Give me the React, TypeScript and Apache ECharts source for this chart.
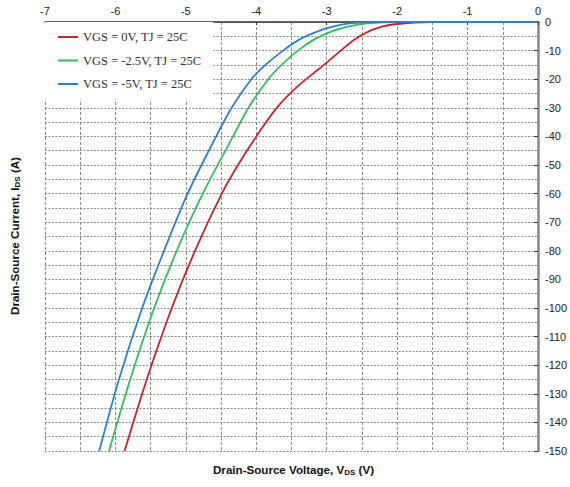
import React, { useEffect, useRef } from "react";
import * as echarts from "echarts";

const seriesNames = ["VGS = 0V, TJ = 25C", "VGS = -2.5V, TJ = 25C", "VGS = -5V, TJ = 25C"];
const seriesColors = ["#cc2229", "#2fbf5f", "#2d80d2"];

// [VDS (V), IDS (A)]
const redData: number[][] = [
  [-5.87, -150], [-5.555, -125], [-5.2, -100], [-4.87, -80], [-4.49, -60], [-4.26, -50],
  [-4.0, -40], [-3.71, -30], [-3.39, -22], [-3.04, -15], [-2.8, -10], [-2.6, -6],
  [-2.38, -3], [-2.2, -1.5], [-2.0, -0.7], [-1.75, -0.2], [-1.5, 0], [0, 0],
];
const greenData: number[][] = [
  [-6.09, -150], [-5.79, -125], [-5.45, -100], [-5.13, -80], [-4.76, -60], [-4.33, -40],
  [-4.11, -30], [-3.83, -20], [-3.64, -15], [-3.41, -10], [-3.17, -6], [-2.9, -3],
  [-2.68, -1.5], [-2.43, -0.5], [-2.2, -0.1], [-1.95, 0], [0, 0],
];
const blueData: number[][] = [
  [-6.23, -150], [-5.95, -125], [-5.62, -100], [-5.31, -80], [-4.975, -60], [-4.57, -40],
  [-4.35, -30], [-4.07, -20], [-3.87, -15], [-3.62, -10], [-3.38, -6], [-3.1, -3],
  [-2.9, -1.5], [-2.68, -0.5], [-2.45, -0.1], [-2.2, 0], [0, 0],
];

const xMin = -7, xMax = 0, xInterval = 1;
const yMin = -150, yMax = 0, yInterval = 10;

const gridColor = "#8a8a8a";

export default function App() {
  const ref = useRef<HTMLDivElement>(null);
  useEffect(() => {
    if (!ref.current) return;
    const chart = echarts.init(ref.current, null, { renderer: "svg" });
    const datas = [redData, greenData, blueData];
    chart.setOption({
      animation: false,
      backgroundColor: "#ffffff",
      grid: { left: 45, right: 31, top: 22, bottom: 36, containLabel: false },
      legend: {
        orient: "vertical",
        left: 45,
        top: 22,
        padding: [7.5, 12, 8, 13],
        backgroundColor: "#ffffff",
        itemGap: 8.5,
        itemWidth: 20,
        itemHeight: 2,
        icon: "rect",
        z: 10,
        textStyle: { fontFamily: "Liberation Serif", fontSize: 12.5, color: "#333", lineHeight: 15 },
        data: seriesNames,
      },
      xAxis: {
        type: "value",
        position: "top",
        min: xMin,
        max: xMax,
        interval: xInterval,
        axisLine: { show: true, onZero: false, lineStyle: { color: "#333", width: 1.5 } },
        axisTick: { show: true, inside: true, length: 3, lineStyle: { color: "#333" } },
        axisLabel: { fontFamily: "Liberation Sans", fontSize: 11, color: "#222", margin: 6 },
        splitLine: { show: true, lineStyle: { color: gridColor, type: [3, 2], width: 1 } },
        minorTick: { show: false, splitNumber: 2 },
        minorSplitLine: { show: true, lineStyle: { color: gridColor, type: [3, 2], width: 1 } },
      },
      yAxis: {
        type: "value",
        position: "right",
        min: yMin,
        max: yMax,
        interval: yInterval,
        axisLine: { show: true, onZero: false, lineStyle: { color: "#888", width: 2.5 } },
        axisTick: { show: true, inside: true, length: 4, lineStyle: { color: "#333" } },
        axisLabel: { fontFamily: "Liberation Sans", fontSize: 11, color: "#222", margin: 7 },
        splitLine: { show: true, lineStyle: { color: gridColor, type: [2, 1.5], width: 1 } },
        minorTick: { show: false, splitNumber: 2 },
        minorSplitLine: { show: true, lineStyle: { color: gridColor, type: [2, 1.5], width: 1 } },
      },
      graphic: [
        {
          type: "text",
          left: 213,
          top: 463,
          style: {
            text: "{a|Drain-Source Voltage, V}{s|DS}{a| (V)}",
            rich: {
              a: { fontFamily: "Liberation Sans", fontWeight: "bold", fontSize: 11.6, fill: "#111" },
              s: { fontFamily: "Liberation Sans", fontWeight: "bold", fontSize: 8, fill: "#111", padding: [6, 0, 0, 0] },
            },
          },
        },
        {
          type: "text",
          x: 14,
          y: 236,
          rotation: Math.PI / 2,
          style: {
            text: "{a|Drain-Source Current, I}{s|DS}{a| (A)}",
            align: "center",
            verticalAlign: "middle",
            rich: {
              a: { fontFamily: "Liberation Sans", fontWeight: "bold", fontSize: 11.6, fill: "#111" },
              s: { fontFamily: "Liberation Sans", fontWeight: "bold", fontSize: 8, fill: "#111", padding: [6, 0, 0, 0] },
            },
          },
        },
      ],
      series: seriesNames.map((name, i) => ({
        name,
        type: "line",
        data: datas[i],
        showSymbol: false,
        symbol: "none",
        smooth: 0.3,
        clip: true,
        color: seriesColors[i],
        lineStyle: { color: seriesColors[i], width: 1.8 },
        z: 3 + i,
      })),
    });
    return () => chart.dispose();
  }, []);
  return <div ref={ref} style={{ width: 570, height: 487, position: "absolute", left: 0, top: 0 }} />;
}
